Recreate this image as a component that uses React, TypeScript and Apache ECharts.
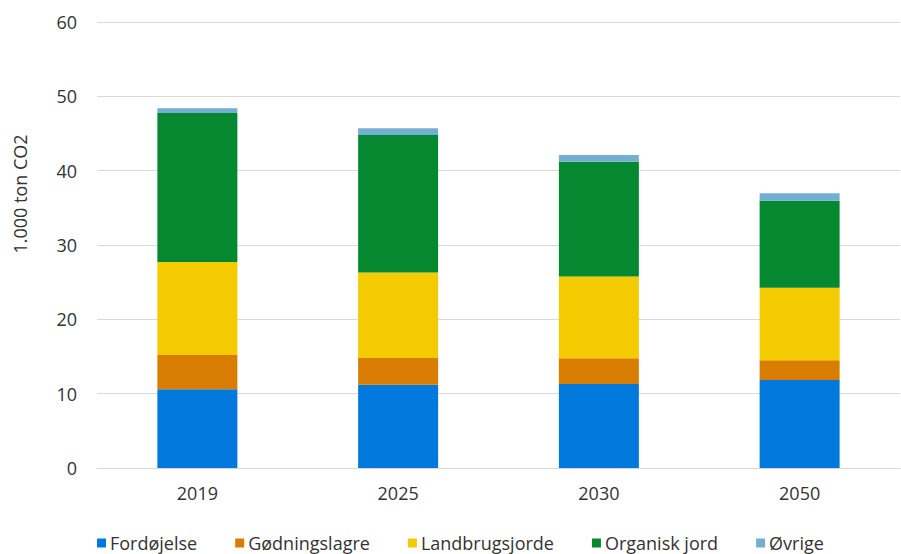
import React, { useEffect, useRef } from "react";
import * as echarts from "echarts";

const categories = ["2019", "2025", "2030", "2050"];
const fordojelse = [10.6, 11.2, 11.3, 11.85];
const godningslagre = [4.6, 3.6, 3.45, 2.65];
const landbrugsjorde = [12.5, 11.5, 11.0, 9.75];
const organiskJord = [20.05, 18.5, 15.45, 11.7];
const ovrige = [0.65, 0.9, 0.9, 1.0];
const yTicks = [0, 10, 20, 30, 40, 50, 60];

const seriesDefs = [
  { name: "Fordøjelse", data: fordojelse, color: "#0078DC" },
  { name: "Gødningslagre", data: godningslagre, color: "#D87D02" },
  { name: "Landbrugsjorde", data: landbrugsjorde, color: "#F4CA00" },
  { name: "Organisk jord", data: organiskJord, color: "#05882F" },
  { name: "Øvrige", data: ovrige, color: "#72AFD2" },
];

const FONT = "Open Sans";

export default function App() {
  const ref = useRef<HTMLDivElement>(null);
  useEffect(() => {
    if (!ref.current) return;
    const chart = echarts.init(ref.current, undefined, { renderer: "svg" });
    chart.setOption({
      animation: false,
      backgroundColor: "#ffffff",
      grid: { left: 97, right: 1, top: 22, bottom: 86, containLabel: false },
      xAxis: {
        type: "category",
        data: categories,
        axisLine: { lineStyle: { color: "#D9D9D9", width: 1 } },
        axisTick: { show: false },
        axisLabel: { color: "#333333", fontSize: 18, fontFamily: FONT, margin: 16 },
      },
      yAxis: {
        type: "value",
        min: yTicks[0],
        max: yTicks[yTicks.length - 1],
        interval: 10,
        axisLine: { show: false },
        axisTick: { show: false },
        splitLine: { lineStyle: { color: "#D9D9D9", width: 1 } },
        axisLabel: { color: "#333333", fontSize: 18, fontFamily: FONT, margin: 20 },
      },
      legend: {
        left: 92,
        top: 529,
        icon: "rect",
        itemWidth: 9,
        itemHeight: 9,
        itemGap: 38,
        textStyle: { color: "#333333", fontSize: 18, fontFamily: FONT, padding: [0, 0, 0, -1] },
        data: seriesDefs.map((s) => s.name),
      },
      graphic: [
        {
          type: "text",
          x: 20,
          y: 194,
          rotation: Math.PI / 2,
          style: {
            text: "1.000 ton CO2",
            fill: "#333333",
            font: `18px "${FONT}"`,
            textAlign: "center",
            textVerticalAlign: "middle",
          },
        },
      ],
      series: seriesDefs.map((s) => ({
        name: s.name,
        type: "bar",
        stack: "total",
        barWidth: 80,
        data: s.data,
        itemStyle: { color: s.color },
      })),
    });
    return () => chart.dispose();
  }, []);
  return <div ref={ref} style={{ width: 901, height: 554, position: "absolute", left: 0, top: 0 }} />;
}
